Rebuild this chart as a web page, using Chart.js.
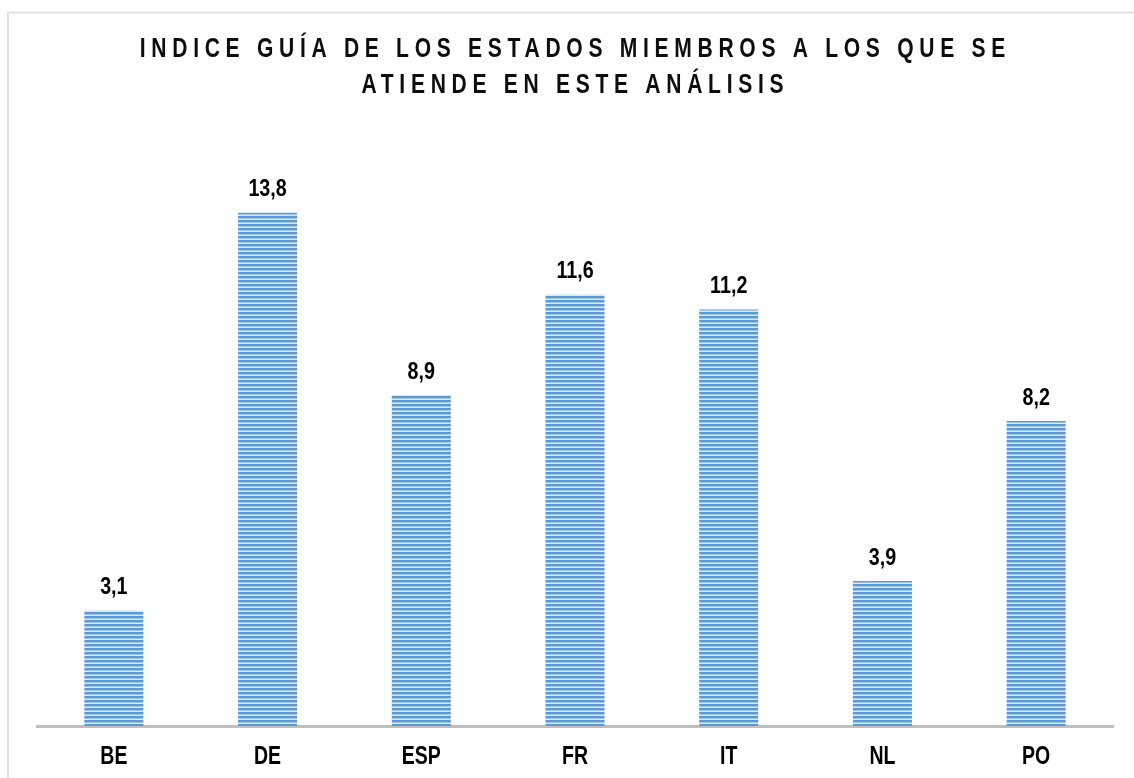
<!DOCTYPE html>
<html>
<head>
<meta charset="utf-8">
<script src="https://cdn.jsdelivr.net/npm/chart.js@4.4.1/dist/chart.umd.min.js"></script>
<style>
  body { margin: 0; background: #fff; }
  #wrap { width: 1134px; height: 778px; position: relative; }
</style>
</head>
<body>
<div id="wrap"><canvas id="myChart" width="1134" height="778"></canvas></div>
<script>
var titleLines = ['INDICE GUÍA DE LOS ESTADOS MIEMBROS A LOS QUE SE', 'ATIENDE EN ESTE ANÁLISIS'];
var countries = ['BE', 'DE', 'ESP', 'FR', 'IT', 'NL', 'PO'];
var values = [3.1, 13.8, 8.9, 11.6, 11.2, 3.9, 8.2];

var FONT = '"Liberation Sans", Arial, sans-serif';
var ctx = document.getElementById('myChart').getContext('2d');

// striped fill like the original bars
function stripes() {
    var c = document.createElement('canvas');
    c.width = 8; c.height = 4;
    var g = c.getContext('2d');
    g.fillStyle = '#5b9bd5'; g.fillRect(0, 0, 8, 2);
    g.fillStyle = '#9fc3ea'; g.fillRect(0, 2, 8, 1);
    g.fillStyle = '#dbe8f6'; g.fillRect(0, 3, 8, 1);
    return ctx.createPattern(c, 'repeat');
}

// the original uses a narrow font, so squeeze the text horizontally
function narrowText(c, text, x, y, sx, spacing) {
    c.save();
    c.translate(x + spacing / 2, y);
    c.scale(sx, 1);
    c.letterSpacing = (spacing / sx) + 'px';
    c.fillText(text, 0, 0);
    c.restore();
}

var frame = {
    id: 'frame',
    beforeDraw: function(chart) {
        var c = chart.ctx;
        c.save();
        c.strokeStyle = '#d9d9d9';
        c.lineWidth = 1.5;
        c.strokeRect(8, 12.5, 1140, 800);
        c.restore();
    }
};

var headline = {
    id: 'headline',
    afterDraw: function(chart) {
        var c = chart.ctx;
        c.save();
        c.font = 'bold 27px ' + FONT;
        c.fillStyle = '#0d0d0d';
        c.textAlign = 'center';
        c.textBaseline = 'middle';
        titleLines.forEach(function(t, i) {
            narrowText(c, t, 572.5, 50 + i * 35.5, 0.78, 5.7);
        });
        c.restore();
    }
};

var valueLabels = {
    id: 'valueLabels',
    afterDatasetsDraw: function(chart) {
        var c = chart.ctx;
        var meta = chart.getDatasetMeta(0);
        c.save();
        c.font = 'bold 24px ' + FONT;
        c.fillStyle = '#000';
        c.textAlign = 'center';
        c.textBaseline = 'middle';
        meta.data.forEach(function(bar, i) {
            narrowText(c, values[i].toFixed(1).replace('.', ','), bar.x, bar.y - 23, 0.82, 0);
        });
        c.restore();
    }
};

// category labels under the axis, placed with the x scale
var axisLabels = {
    id: 'axisLabels',
    afterDraw: function(chart) {
        var c = chart.ctx;
        var x = chart.scales.x;
        c.save();
        c.font = 'bold 25px ' + FONT;
        c.fillStyle = '#000';
        c.textAlign = 'center';
        c.textBaseline = 'middle';
        countries.forEach(function(name, i) {
            narrowText(c, name, x.getPixelForTick(i), x.top + 31, 0.78, 0);
        });
        c.restore();
    }
};

var myChart = new Chart(ctx, {
    type: 'bar',
    data: {
        labels: countries,
        datasets: [{
            data: values,
            backgroundColor: stripes(),
            borderWidth: 0,
            categoryPercentage: 1,
            barPercentage: 0.384
        }]
    },
    options: {
        responsive: false,
        animation: false,
        layout: { padding: { left: 37, right: 21, top: 131, bottom: 0 } },
        plugins: {
            legend: { display: false },
            tooltip: { enabled: false }
        },
        scales: {
            y: {
                display: false,
                min: 0,
                max: 16
            },
            x: {
                afterFit: function(scale) { scale.height = 52; },
                grid: { display: false, drawTicks: false },
                border: { color: '#bfbfbf', width: 3 },
                ticks: { display: false }
            }
        }
    },
    plugins: [frame, headline, valueLabels, axisLabels]
});
</script>
</body>
</html>
